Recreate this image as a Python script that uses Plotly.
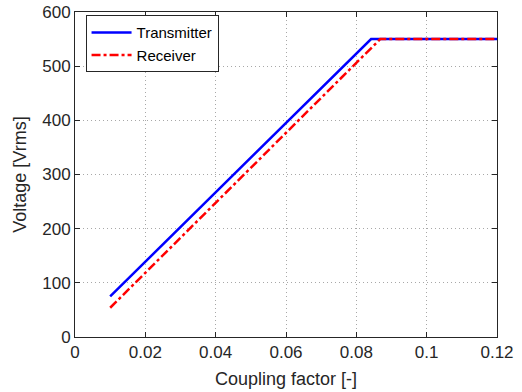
import plotly.graph_objects as go

tx_x = [0.01, 0.0842, 0.12]
tx_y = [75, 550, 550]
rx_x = [0.01, 0.0868, 0.12]
rx_y = [54, 550, 550]

x_ticks = [0, 0.02, 0.04, 0.06, 0.08, 0.1, 0.12]
x_tick_labels = ["0", "0.02", "0.04", "0.06", "0.08", "0.1", "0.12"]
y_ticks = [0, 100, 200, 300, 400, 500, 600]

fig = go.Figure()
fig.add_trace(go.Scatter(x=tx_x, y=tx_y, mode="lines", name="Transmitter",
                         line=dict(color="#0000ff", width=2.5)))
fig.add_trace(go.Scatter(x=rx_x, y=rx_y, mode="lines", name="Receiver",
                         line=dict(color="#ff0000", width=2.5, dash="dashdot")))

axis_common = dict(
    showline=True, linecolor="#262626", linewidth=1, mirror="ticks",
    ticks="inside", ticklen=5, tickcolor="#262626",
    showgrid=True, gridcolor="#a8a8a8", griddash="1px,3px", gridwidth=1,
    zeroline=False, automargin=False,
    tickfont=dict(family="Liberation Sans, Arial", size=17, color="#262626"),
)

fig.update_layout(
    width=522, height=392,
    margin=dict(l=75, r=25, t=12, b=55),
    paper_bgcolor="white", plot_bgcolor="white",
    font=dict(family="Liberation Sans, Arial", color="#262626"),
    xaxis=dict(range=[0, 0.12], tickvals=x_ticks, ticktext=x_tick_labels,
               title=dict(text="Coupling factor [-]", font=dict(size=18), standoff=10),
               **axis_common),
    yaxis=dict(range=[0, 600], tickvals=y_ticks,
               title=dict(text="Voltage [Vrms]", font=dict(size=18), standoff=10),
               **axis_common),
    legend=dict(x=0.025, y=0.99, xanchor="left", yanchor="top",
                bgcolor="white", bordercolor="#262626", borderwidth=1,
                font=dict(family="Liberation Sans, Arial", size=15, color="black"),
                tracegroupgap=0, itemwidth=40),
    showlegend=True,
)

fig.write_html("out.html", config={"displayModeBar": False},
               post_script="document.body.style.margin='0';document.body.style.overflow='hidden';")
